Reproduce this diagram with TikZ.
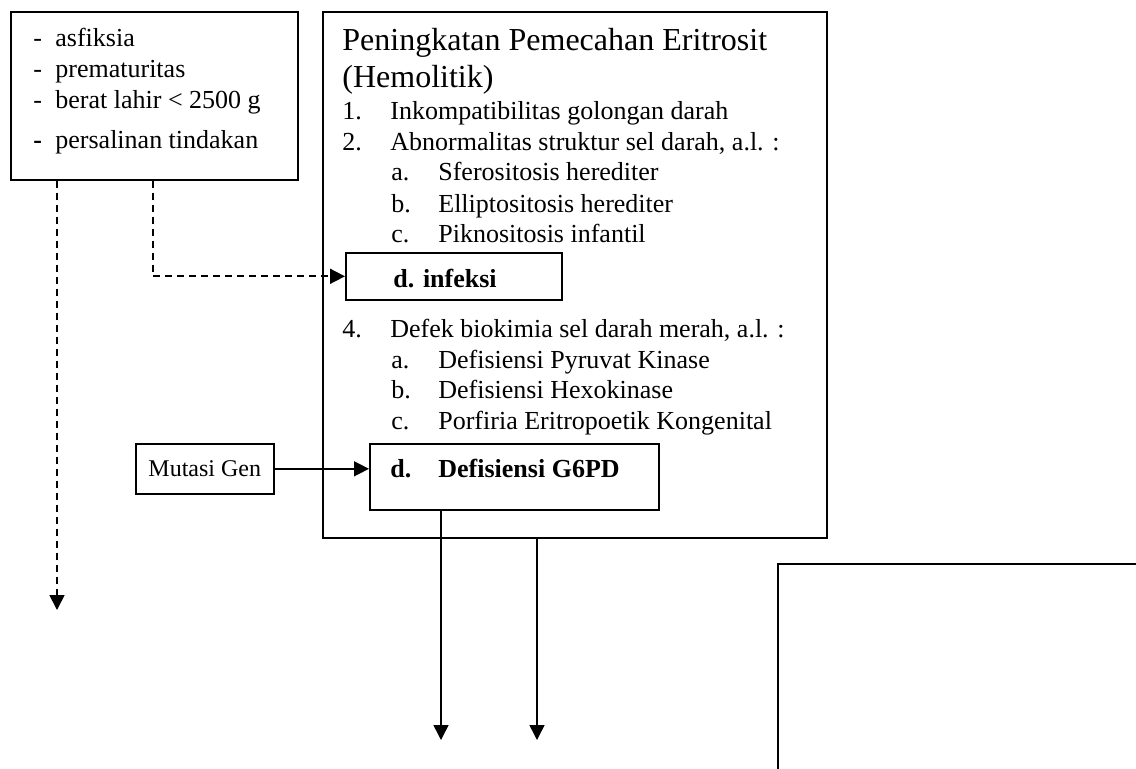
\documentclass[tikz,border=0pt]{standalone}
\usepackage{fontspec}
\setmainfont{Liberation Serif}
\usetikzlibrary{arrows.meta}

\begin{document}
\begin{tikzpicture}[x=0.5pt,y=-0.5pt,
  box/.style={draw,line width=0.8pt,inner sep=0pt,anchor=north west,font=\fontsize{13}{15}\selectfont},
  txt/.style={anchor=base west,inner sep=0pt,font=\fontsize{13}{15}\selectfont},
  boldtxt/.style={txt,font=\fontsize{13}{15}\selectfont\bfseries},
  line/.style={line width=0.75pt,-{Triangle[length=7.5pt,width=7.5pt]}},
  dline/.style={line,line width=0.85pt,dash pattern=on 3.5pt off 2.5pt}]
\useasboundingbox (0,0) rectangle (1136,768);
\clip (0,0) rectangle (1136,768);

\node[box,minimum width=143.5pt,minimum height=84pt] (risk) at (10,11) {};
\node[txt] (r1) at (33,46) {\makebox[11pt][l]{-}asfiksia};
\node[txt] (r2) at (33,77) {\makebox[11pt][l]{-}prematuritas};
\node[txt] (r3) at (33,108) {\makebox[11pt][l]{-}berat lahir < 2500 g};
\node[txt] (r4) at (33,148) {\makebox[11pt][l]{\bfseries -}persalinan tindakan};

\node[box,minimum width=252pt,minimum height=263pt] (hemo) at (322,11) {};
\node[txt,font=\fontsize{16}{19}\selectfont] (title) at (342,50) {Peningkatan Pemecahan Eritrosit};
\node[txt,font=\fontsize{16}{19}\selectfont] (hemolitik) at (342,87) {(Hemolitik)};
\node[txt] (h1) at (342,119) {\makebox[24pt][l]{1.}Inkompatibilitas golongan darah};
\node[txt] (h2) at (342,150) {\makebox[24pt][l]{2.}Abnormalitas struktur sel darah, a.l. :};
\node[txt] (h2a) at (391,180) {\makebox[23.5pt][l]{a.}Sferositosis herediter};
\node[txt] (h2b) at (391,212) {\makebox[23.5pt][l]{b.}Elliptositosis herediter};
\node[txt] (h2c) at (391,242) {\makebox[23.5pt][l]{c.}Piknositosis infantil};

\node[box,fill=white,minimum width=108pt,minimum height=23.5pt] (infeksi) at (345,252) {};
\node[boldtxt] (inftxt) at (393,287) {d. infeksi};

\node[txt] (h4) at (342,337) {\makebox[24pt][l]{4.}Defek biokimia sel darah merah, a.l. :};
\node[txt] (h4a) at (391,368) {\makebox[23.5pt][l]{a.}Defisiensi Pyruvat Kinase};
\node[txt] (h4b) at (391,398) {\makebox[23.5pt][l]{b.}Defisiensi Hexokinase};
\node[txt] (h4c) at (391,429) {\makebox[23.5pt][l]{c.}Porfiria Eritropoetik Kongenital};

\node[box,minimum width=144.5pt,minimum height=33pt] (g6pd) at (369,443) {};
\node[boldtxt] (g6pdtxt) at (390,477) {\makebox[24pt][l]{d.}Defisiensi G6PD};

\node[box,minimum width=69pt,minimum height=25pt,font=\fontsize{12}{14}\selectfont] (mutasi) at (135,443) {Mutasi Gen};

\node[box,minimum width=250pt,minimum height=150pt] (blank) at (777,563) {};

\coordinate (down1) at (57,610);
\coordinate (bend) at (153,0);
\coordinate (out1) at (441,740);
\coordinate (out2) at (537,740);

\draw[dline] (risk.south -| down1) -- (down1);
\draw[dline] (risk.south -| bend) |- (infeksi.west);
\draw[line] (mutasi.east) -- (mutasi.east -| g6pd.west);
\draw[line] (g6pd.south -| out1) -- (out1);
\draw[line] (hemo.south -| out2) -- (out2);
\end{tikzpicture}
\end{document}
